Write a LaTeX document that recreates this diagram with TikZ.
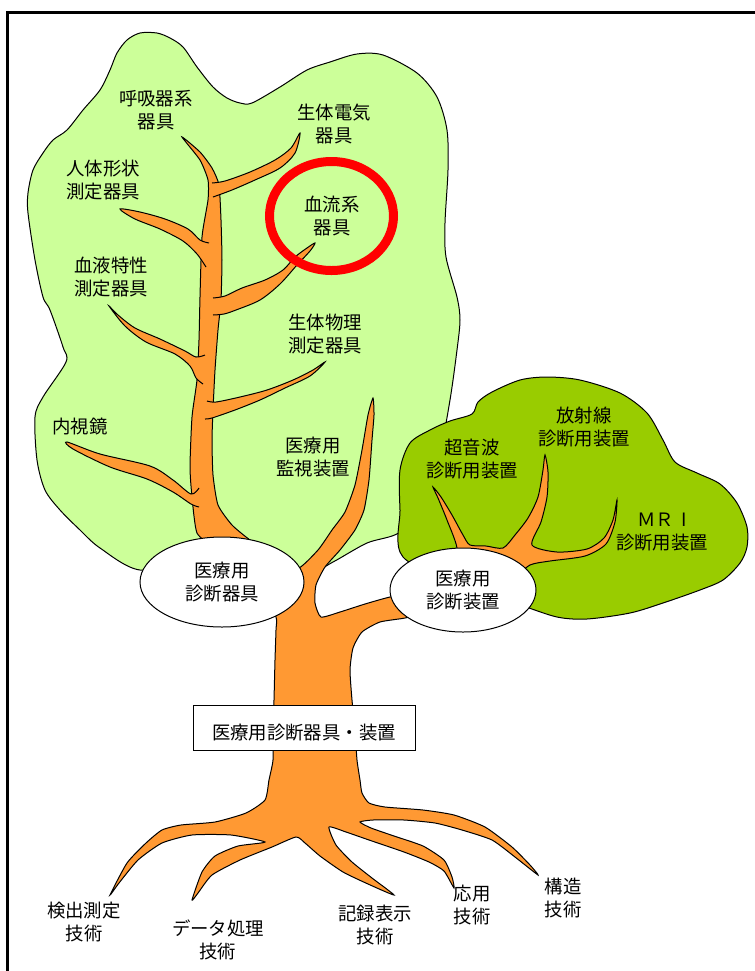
\documentclass[tikz,border=0pt]{standalone}
\usepackage{fontspec}
\usetikzlibrary{shapes.geometric}
\newfontfamily\jp{Noto Sans CJK JP}
\definecolor{leaf}{HTML}{CCFF99}
\definecolor{leafdark}{HTML}{99CC00}
\definecolor{bark}{HTML}{FF9933}
\tikzset{
	lbl/.style={align=center, inner sep=0pt, font=\jp\fontsize{9.2}{11.5}\selectfont},
	bubble/.style={lbl, ellipse, draw=black, fill=white},
}
\begin{document}
\begin{tikzpicture}[x=0.5pt, y=-0.5pt, line width=0.5pt]
	\useasboundingbox (0,0) rectangle (755,971);
	\draw[line width=1.2pt] (7.5,971) -- (7.5,12.5) -- (755,12.5);
	\filldraw[fill=leaf, draw=black] plot[smooth cycle, tension=0.5] coordinates {
		(157,33) (170,38) (183,47) (197,67) (213,87) (227,98) (240,103) (252,103) (280,87) (307,70)
		(330,62) (357,54) (383,55) (417,73) (437,97) (447,130) (448,170) (445,223) (446,257) (457,297)
		(460,320) (457,350) (450,400) (440,450) (420,500) (400,532) (367,543) (333,562) (305,575) (260,565)
		(200,560) (140,570) (100,548) (80,530) (60,510) (45,490) (37,460) (35,417) (43,397) (66,362)
		(63,347) (50,310) (43,297) (35,260) (28,213) (28,193) (33,170) (43,153) (53,140) (67,130)
		(83,110) (100,90) (110,70) (117,53) (127,40) (140,33)};
	\filldraw[fill=leafdark, draw=black] plot[smooth cycle, tension=0.5] coordinates {
		(403,557) (400,510) (400,470) (410,443) (430,430) (450,421) (472,414) (478,402) (492,392) (520,380)
		(547,377) (580,380) (620,393) (647,413) (663,440) (675,462) (697,473) (720,484) (737,503) (747,527)
		(747,547) (740,563) (723,580) (700,590) (663,603) (630,613) (587,619) (557,617) (520,605) (470,590)};
	\filldraw[fill=bark, draw=black] plot[smooth cycle, tension=0.35] coordinates {
		(182,137) (200,152) (212,168) (219,185) (221,220) (222,260) (221,300) (218,330) (215,370) (213,410)
		(212,440) (213,475) (218,505) (232,525) (250,540) (275,557) (297,569) (318,550) (332,530) (345,512)
		(355,485) (362,450) (368,415) (373,398) (374,415) (372,440) (369,480) (364,510) (355,530) (340,550)
		(325,567) (316,585) (315,603) (321,617) (340,612) (365,604) (390,597) (420,592) (425,612) (405,618)
		(380,622) (362,632) (353,648) (350,670) (352,700) (355,730) (357,760) (360,780) (362,793) (369,803)
		(385,807) (423,810) (454,815) (485,827) (512,847) (530,865) (538,875) (515,857) (492,840) (462,830)
		(435,823) (404,820) (373,820) (360,822) (371,828) (394,836) (423,846) (444,860) (452,877) (454,888)
		(444,871) (429,862) (404,852) (369,840) (346,832) (329,827) (336,845) (352,862) (372,878) (394,895)
		(368,884) (343,872) (320,856) (305,843) (296,837) (272,847) (240,860) (212,875) (198,893) (192,900)
		(202,872) (215,856) (238,846) (265,842) (231,835) (192,835) (162,843) (138,860) (119,883) (110,895)
		(127,863) (146,843) (162,830) (181,825) (215,822) (246,813) (265,800) (269,780) (273,760) (273,730)
		(274,700) (275,660) (276,630) (276,617) (262,595) (240,565) (215,548) (197,533) (192,497) (190,467)
		(192,417) (197,380) (199,340) (200,297) (202,237) (208,200) (208,180) (200,160)};
	\filldraw[fill=bark, draw=black] plot[smooth, tension=0.5] coordinates {
		(212,183) (225,181) (250,172) (275,160) (291,148) (300,133) (295,153) (280,168) (255,180) (232,190) (213,197)};
	\filldraw[fill=bark, draw=black] plot[smooth, tension=0.5] coordinates {
		(209,243) (200,240) (188,229) (165,219) (140,212) (120,209) (135,219) (160,229) (183,241) (197,254) (206,267)};
	\filldraw[fill=bark, draw=black] plot[smooth, tension=0.5] coordinates {
		(213,298) (225,296) (242,288) (265,280) (283,270) (295,257) (307,248) (315,243) (310,251) (297,265)
		(280,284) (260,300) (236,310) (224,314) (213,315)};
	\filldraw[fill=bark, draw=black] plot[smooth, tension=0.5] coordinates {
		(205,355) (196,357) (185,351) (160,339) (135,328) (118,315) (109,306) (125,326) (146,342) (175,354)
		(190,366) (196,378) (203,384)};
	\filldraw[fill=bark, draw=black] plot[smooth, tension=0.5] coordinates {
		(207,401) (216,402) (240,397) (267,390) (293,380) (313,370) (325,362) (310,376) (285,388) (260,400)
		(235,410) (212,418) (205,419)};
	\filldraw[fill=bark, draw=black] plot[smooth, tension=0.5] coordinates {
		(199,488) (191,494) (173,480) (150,466) (100,454) (67,442) (73,449) (110,467) (147,479) (173,492)
		(191,504) (199,507)};
	\filldraw[fill=bark, draw=black] plot[smooth, tension=0.45] coordinates {
		(455,575) (457,548) (447,520) (438,498) (433,487) (441,497) (452,515) (463,535) (470,545) (486,546)
		(503,548) (515,535) (528,518) (538,497) (543,470) (545,455) (548,472) (547,497) (541,522) (532,545)
		(557,552) (587,549) (604,538) (613,520) (617,500) (615,522) (606,544) (585,556) (550,561) (530,565)
		(515,578)};
	\node[bubble, minimum width=82pt, minimum height=45pt] (kigu) at (222,582) {医療用\\診断器具};
	\node[bubble, minimum width=73pt, minimum height=42pt] (souchi) at (463,590) {医療用\\診断装置};
	\node[lbl, draw=black, fill=white, minimum width=111pt, minimum height=22.5pt, text height=13pt, text depth=1pt] (base) at (304,727.5) {医療用診断器具・装置};
	\node[lbl] (kokyu) at (156,110) {呼吸器系\\器具};
	\node[lbl] (denki) at (334,124) {生体電気\\器具};
	\node[lbl] (keijo) at (103,180) {人体形状\\測定器具};
	\node[lbl] (ketsuryu) at (332,216) {血流系\\器具};
	\node[lbl] (ketsueki) at (111,277) {血液特性\\測定器具};
	\node[lbl] (butsuri) at (325,334) {生体物理\\測定器具};
	\node[lbl] (naishi) at (80,427) {内視鏡};
	\node[lbl] (kanshi) at (313,457) {医療用\\監視装置};
	\node[lbl] (choonpa) at (472,459) {超音波\\診断用装置};
	\node[lbl] (hosha) at (584,427) {放射線\\診断用装置};
	\node[lbl] (mri) at (662,532) {ＭＲ\hspace{0.36em}I\hspace{0.36em}\\診断用装置};
	\node[lbl] (kenshutsu) at (84,922) {検出測定\\技術};
	\node[lbl] (data) at (218,940) {データ処理\\技術};
	\node[lbl] (kiroku) at (375,925) {記録表示\\技術};
	\node[lbl] (oyo) at (472,905) {応用\\技術};
	\node[lbl] (kozo) at (563,898) {構造\\技術};
	\draw[red, line width=4.5pt] (331.5,216) ellipse [x radius=31pt, y radius=27.25pt];
\end{tikzpicture}
\end{document}
